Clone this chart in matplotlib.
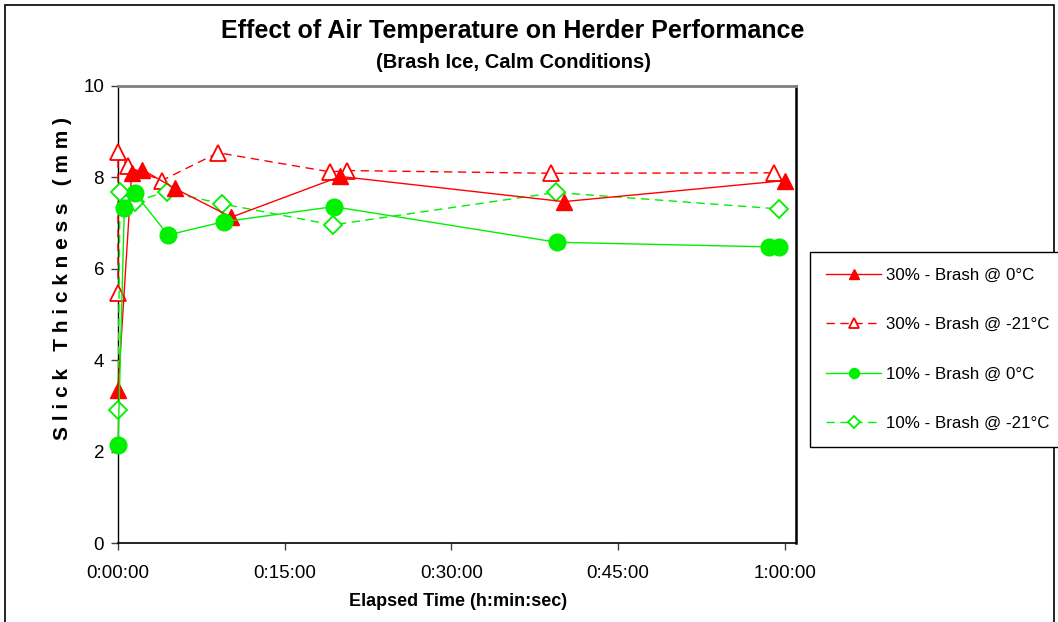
import matplotlib.pyplot as plt
from matplotlib.ticker import FuncFormatter, MultipleLocator
from matplotlib.patches import Rectangle

plt.rcParams['font.family'] = ['Liberation Sans', 'DejaVu Sans']

# elapsed time in minutes, slick thickness in mm
red_solid_t = [0, 1.23, 2.19, 5.1, 10.2, 20.0, 40.1, 60.0]
red_solid_y = [3.35, 8.09, 8.17, 7.76, 7.13, 8.02, 7.47, 7.93]

red_dash_t = [0, 0, 0.87, 3.93, 9.0, 19.1, 20.6, 39.0, 59.0]
red_dash_y = [5.47, 8.56, 8.24, 7.93, 8.54, 8.12, 8.15, 8.09, 8.10]

green_solid_t = [0, 0.57, 1.53, 4.5, 9.5, 19.4, 39.5, 58.6, 59.5]
green_solid_y = [2.14, 7.32, 7.65, 6.74, 7.03, 7.36, 6.58, 6.48, 6.48]

green_dash_t = [0, 0.18, 1.5, 4.38, 9.4, 19.3, 39.4, 59.5]
green_dash_y = [2.91, 7.69, 7.47, 7.69, 7.42, 6.96, 7.67, 7.31]

labels = ['30% - Brash @ 0°C', '30% - Brash @ -21°C',
          '10% - Brash @ 0°C', '10% - Brash @ -21°C']

RED = '#FF0000'
GREEN = '#00F000'


def hms(v, pos):
    secs = int(round(v * 60))
    return '%d:%02d:%02d' % (secs // 3600, (secs % 3600) // 60, secs % 60)


W, H = 1058, 622
fig = plt.figure(figsize=(W / 100, H / 100), dpi=100)
ax = fig.add_axes([118 / W, 1 - 543 / H, (796 - 118) / W, (543 - 86) / H])

h1, = ax.plot(red_solid_t, red_solid_y, color=RED, lw=1, marker='^', ms=12,
              mfc=RED, mec=RED, clip_on=False, zorder=4)
h2, = ax.plot(red_dash_t, red_dash_y, color=RED, lw=1, dashes=(6, 4), marker='^',
              ms=12, mfc='white', mec=RED, mew=1.3, clip_on=False, zorder=3)
h3, = ax.plot(green_solid_t, green_solid_y, color=GREEN, lw=1, marker='o', ms=12,
              mfc=GREEN, mec=GREEN, clip_on=False, zorder=4)
h4, = ax.plot(green_dash_t, green_dash_y, color=GREEN, lw=1, dashes=(6, 4), marker='D',
              ms=9.5, mfc='white', mec=GREEN, mew=1.3, clip_on=False, zorder=3)

ax.set_xlim(0, 61.0)
ax.set_ylim(0, 10)
ax.xaxis.set_major_locator(MultipleLocator(15))
ax.xaxis.set_major_formatter(FuncFormatter(hms))
ax.yaxis.set_major_locator(MultipleLocator(2))
ax.tick_params(axis='both', direction='out', length=5, width=1, color='#404040')
ax.tick_params(axis='x', labelsize=13.5, pad=11)
ax.tick_params(axis='y', labelsize=13.5, pad=5)

ax.spines['top'].set_color('#808080')
ax.spines['top'].set_linewidth(2)
ax.spines['right'].set_color('black')
ax.spines['right'].set_linewidth(1.8)
ax.spines['left'].set_linewidth(1)
ax.spines['bottom'].set_linewidth(1.2)

fig.text(513 / W, 1 - 31 / H, 'Effect of Air Temperature on Herder Performance',
         ha='center', va='center', fontsize=18, fontweight='bold')
fig.text(513 / W, 1 - 63 / H, '(Brash Ice, Calm Conditions)',
         ha='center', va='center', fontsize=14.5, fontweight='bold')
fig.text(458 / W, 1 - 602 / H, 'Elapsed Time (h:min:sec)',
         ha='center', va='center', fontsize=13, fontweight='bold')
fig.text(63 / W, 1 - 278 / H, 'S l i c k   T h i c k n e s s   ( m m )',
         ha='center', va='center', rotation=90, fontsize=15, fontweight='bold')

leg = fig.legend([h1, h2, h3, h4], labels, loc='upper left',
                 bbox_to_anchor=(810 / W, 1 - 252 / H), fontsize=12.2,
                 frameon=True, fancybox=False, framealpha=1, edgecolor='black',
                 borderpad=0.95, labelspacing=2.02, handlelength=3.25,
                 handletextpad=0.3, borderaxespad=0, markerscale=0.6)
leg.get_frame().set_linewidth(1)

# outer chart border
fig.patches.append(Rectangle((5 / W, -0.05), (1054 - 5) / W, 1.05 - 5 / H,
                             transform=fig.transFigure, fill=False,
                             edgecolor='black', lw=1.2))

fig.savefig('out.png', dpi=100)
